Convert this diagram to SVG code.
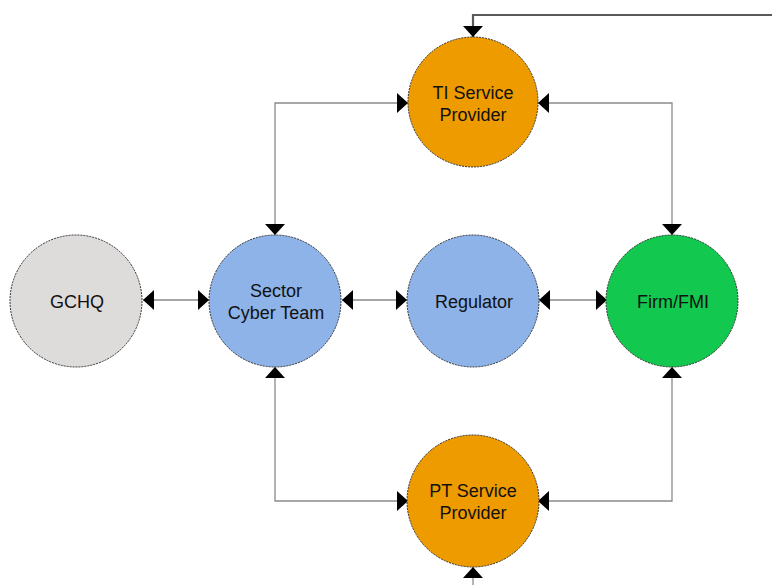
<svg xmlns="http://www.w3.org/2000/svg" width="772" height="585" viewBox="0 0 772 585">
<defs>
<style>
.node{stroke:#333;stroke-width:1;stroke-dasharray:2 1}
.lbl{font-family:"Liberation Sans",Arial,sans-serif;font-size:18px;fill:#111;text-anchor:middle}
.conn{fill:none;stroke:#8a8a8a;stroke-width:1.3}
.feed{fill:none;stroke:#5a5a5a;stroke-width:2.2}
</style>
<marker id="ah" viewBox="0 0 11 20" markerUnits="userSpaceOnUse" markerWidth="11" markerHeight="20" refX="11" refY="10" orient="auto-start-reverse">
<path d="M0,0 L11,10 L0,20 z" fill="#000"/>
</marker>
</defs>
<rect width="772" height="585" fill="#fff"/>
<g id="connectors">
<path class="conn" d="M275,235 V103 H408" marker-start="url(#ah)" marker-end="url(#ah)"/>
<path class="conn" d="M538,103 H672 V235" marker-start="url(#ah)" marker-end="url(#ah)"/>
<path class="conn" d="M143,300 H209" marker-start="url(#ah)" marker-end="url(#ah)"/>
<path class="conn" d="M342,300 H407" marker-start="url(#ah)" marker-end="url(#ah)"/>
<path class="conn" d="M539,300 H607" marker-start="url(#ah)" marker-end="url(#ah)"/>
<path class="conn" d="M275,367 V501 H408" marker-start="url(#ah)" marker-end="url(#ah)"/>
<path class="conn" d="M672,367 V501 H538" marker-start="url(#ah)" marker-end="url(#ah)"/>
<path class="feed" d="M772,15 H473 V37" marker-end="url(#ah)"/>
<path class="conn" d="M473,585 V567" marker-end="url(#ah)"/>
</g>
<g id="ti">
<circle class="node" cx="473" cy="102" r="65" fill="#EE9B00"/>
<text class="lbl" x="473" y="99">TI Service</text>
<text class="lbl" x="473" y="121">Provider</text>
</g>
<g id="gchq">
<circle class="node" cx="76" cy="301" r="66" fill="#DEDBDB"/>
<text class="lbl" x="77" y="308">GCHQ</text>
</g>
<g id="sector">
<circle class="node" cx="275" cy="301" r="66" fill="#8DB3E9"/>
<text class="lbl" x="276" y="297">Sector</text>
<text class="lbl" x="276" y="319">Cyber Team</text>
</g>
<g id="regulator">
<circle class="node" cx="473" cy="301" r="66" fill="#8DB3E9"/>
<text class="lbl" x="474" y="308">Regulator</text>
</g>
<g id="firm">
<circle class="node" cx="672" cy="301" r="66" fill="#12C84E"/>
<text class="lbl" x="673" y="308">Firm/FMI</text>
</g>
<g id="pt">
<circle class="node" cx="473" cy="501" r="66" fill="#EE9B00"/>
<text class="lbl" x="473" y="497">PT Service</text>
<text class="lbl" x="473" y="519">Provider</text>
</g>
</svg>
